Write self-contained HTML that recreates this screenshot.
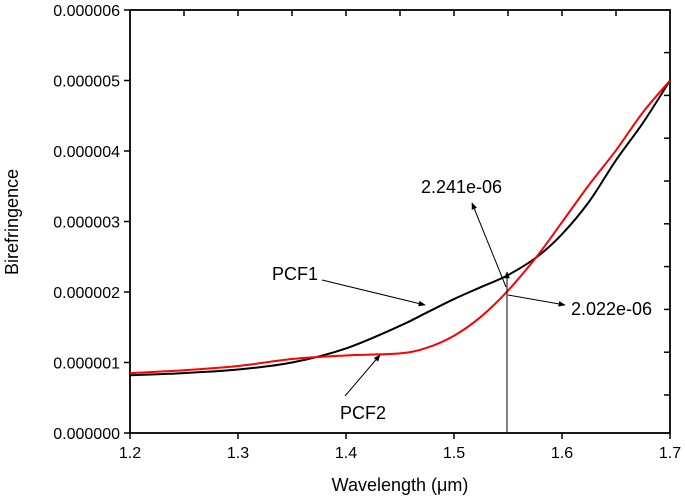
<!DOCTYPE html>
<html><head><meta charset="utf-8"><style>
body{margin:0;background:#fff}
svg{display:block;font-family:"Liberation Sans",Arial,sans-serif}
</style></head><body>
<svg id="c" width="685" height="497" viewBox="0 0 685 497">
<defs><marker id="ah" viewBox="0 0 10 10" refX="9" refY="5" markerWidth="9" markerHeight="7" orient="auto-start-reverse"><path d="M0,1 L10,5 L0,9 z" fill="#000"/></marker></defs>
<g id="g"></g>
</svg>
<script>
const xs=[1.2,1.25,1.3,1.35,1.4,1.45,1.475,1.5,1.525,1.55,1.577,1.6,1.625,1.65,1.675,1.7];
const pcf1=[0.82,0.85,0.9,1.0,1.2,1.52,1.71,1.9,2.07,2.24,2.5,2.82,3.28,3.87,4.4,5.0];
const pcf2=[0.85,0.89,0.95,1.05,1.1,1.13,1.21,1.38,1.65,2.02,2.51,2.99,3.52,4.01,4.55,5.0];
const xTicks=[1.2,1.3,1.4,1.5,1.6,1.7];
const yTicks=[0,1,2,3,4,5,6];
const X0=130,X1=670,Y0=433,Y1=10;
const sx=v=>X0+(v-1.2)/0.5*(X1-X0);
const sy=v=>Y0-v/6*(Y0-Y1);
const g=document.getElementById('g');
function el(t,a,txt){const e=document.createElementNS('http://www.w3.org/2000/svg',t);for(const k in a)e.setAttribute(k,a[k]);if(txt!==undefined)e.textContent=txt;g.appendChild(e);return e;}
function curve(ys){const p=xs.map((x,i)=>[sx(x),sy(ys[i])]);let d='M'+p[0];for(let i=0;i<p.length-1;i++){const a=p[Math.max(0,i-1)],b=p[i],c=p[i+1],e=p[Math.min(p.length-1,i+2)];const c1=[b[0]+(c[0]-a[0])/6,b[1]+(c[1]-a[1])/6],c2=[c[0]-(e[0]-b[0])/6,c[1]-(e[1]-b[1])/6];d+=' C'+c1+' '+c2+' '+c;}return d;}
let e;
e=el('rect',{x:X0,y:Y1,width:X1-X0,height:Y0-Y1,fill:'none',stroke:'#000','stroke-width':1.8});

yTicks.forEach(t=>{const y=sy(t);
e=el('line',{x1:X0-6,x2:X0,y1:y,y2:y,stroke:'#000','stroke-width':1.5});
e=el('text',{x:X0-10,y:y+6,'text-anchor':'end','font-size':16},(t*1e-6).toFixed(6));});
for(let y=395;y>15;y-=42.8){e=el('line',{x1:X1,x2:X1-6,y1:y,y2:y,stroke:'#000','stroke-width':1.5});}
xTicks.forEach(t=>{const x=sx(t);
e=el('line',{x1:x,x2:x,y1:Y0,y2:Y0+6,stroke:'#000','stroke-width':1.5});
e=el('text',{x:x,y:Y0+25,'text-anchor':'middle','font-size':16},t.toFixed(1));});
for(let t=1.25;t<1.7;t+=0.05){e=el('line',{x1:sx(t),x2:sx(t),y1:Y1,y2:Y1+6,stroke:'#000','stroke-width':1.5});}
e=el('path',{d:curve(pcf1),fill:'none',stroke:'#000','stroke-width':2});
e=el('path',{d:curve(pcf2),fill:'none',stroke:'#f00','stroke-width':2});
e=el('text',{x:0,y:0,'text-anchor':'middle','font-size':18,transform:'translate(18,222) rotate(-90)'},'Birefringence');
e=el('text',{x:400,y:491,'text-anchor':'middle','font-size':18},'Wavelength (\u03bcm)');
const A=(x1,y1,x2,y2,n)=>{e=el('line',{x1,y1,x2,y2,stroke:'#000','stroke-width':1,'marker-end':'url(#ah)'});};
A(507,433,507,272,'vertical-marker-arrow');
A(506,287,472,203,'upper-value-arrow');
A(508,295,565,305,'lower-value-arrow');
A(322,280,425,305,'pcf1-arrow');
A(345,396,380,355,'pcf2-arrow');
const T=(x,y,s,n)=>{e=el('text',{x,y,'font-size':18},s);};
T(421,193,'2.241e-06','upper-value-label');
T(571,315,'2.022e-06','lower-value-label');
T(272,280,'PCF1','pcf1-label');
T(340,419,'PCF2','pcf2-label');
</script>
</body></html>
